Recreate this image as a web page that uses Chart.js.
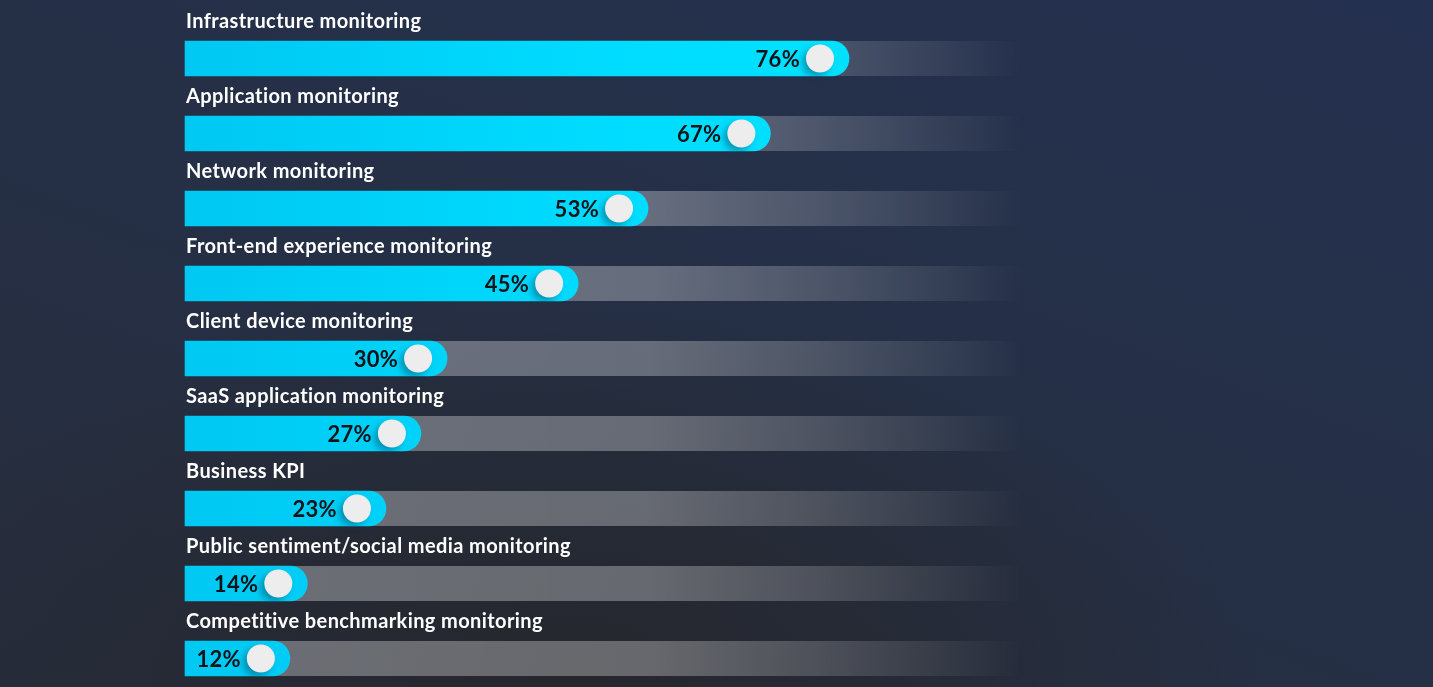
<!DOCTYPE html>
<html>
<head>
<meta charset="utf-8">
<script src="https://cdn.jsdelivr.net/npm/chart.js@4"></script>
<style>
  html, body {
    margin: 0;
    padding: 0;
    width: 1433px;
    height: 687px;
    overflow: hidden;
    background-color: #252d42;
    background-image:
      radial-gradient(ellipse 700px 420px at 560px 700px, rgba(37, 39, 44, 1) 0%, rgba(37, 40, 48, 0.7) 45%, rgba(37, 45, 66, 0) 100%),
      linear-gradient(200deg, #24304f 0%, #253047 45%, #262c3b 100%);
  }
  #wrap { position: relative; width: 1433px; height: 687px; }
</style>
</head>
<body>
<div id="wrap"><canvas id="myChart" width="1433" height="687"></canvas></div>
<script>
const categories = [
  'Infrastructure monitoring',
  'Application monitoring',
  'Network monitoring',
  'Front-end experience monitoring',
  'Client device monitoring',
  'SaaS application monitoring',
  'Business KPI',
  'Public sentiment/social media monitoring',
  'Competitive benchmarking monitoring',
];
const shares = [76, 67, 53, 45, 30, 27, 23, 14, 12];

const BAR_H = 35;
const KNOB_R = 14;

// gray tracks that fade out to the right
const trackPlugin = {
  id: 'tracks',
  beforeDatasetsDraw(chart) {
    const { ctx, chartArea } = chart;
    const meta = chart.getDatasetMeta(0);
    const right = chartArea.right + 10;
    const g = ctx.createLinearGradient(chartArea.left, 0, right, 0);
    g.addColorStop(0, 'rgba(255,255,255,0.33)');
    g.addColorStop(0.55, 'rgba(255,255,255,0.30)');
    g.addColorStop(0.75, 'rgba(255,255,255,0.19)');
    g.addColorStop(0.9, 'rgba(255,255,255,0.08)');
    g.addColorStop(1, 'rgba(255,255,255,0)');
    ctx.save();
    ctx.fillStyle = g;
    meta.data.forEach((bar) => {
      ctx.fillRect(chartArea.left, bar.y - BAR_H / 2, right - chartArea.left, BAR_H);
    });
    ctx.restore();
  },
};

// category names above bars, knob and value label at the bar end
const decorPlugin = {
  id: 'decor',
  afterDatasetsDraw(chart) {
    const { ctx, chartArea } = chart;
    const meta = chart.getDatasetMeta(0);
    ctx.save();
    meta.data.forEach((bar, i) => {
      ctx.fillStyle = '#ffffff';
      ctx.font = '700 20px Lato';
      ctx.letterSpacing = '0.4px';
      ctx.textAlign = 'left';
      ctx.textBaseline = 'middle';
      ctx.fillText(categories[i], chartArea.left + 1, bar.y - 37);

      const kx = bar.x - 29;
      ctx.save();
      ctx.shadowColor = 'rgba(0, 70, 100, 0.45)';
      ctx.shadowBlur = 6;
      ctx.shadowOffsetX = -4;
      ctx.shadowOffsetY = 4;
      ctx.beginPath();
      ctx.arc(kx, bar.y, KNOB_R, 0, Math.PI * 2);
      ctx.fillStyle = '#ededed';
      ctx.fill();
      ctx.restore();

      ctx.fillStyle = '#111318';
      ctx.font = '700 22px Lato';
      ctx.letterSpacing = '0.3px';
      ctx.textAlign = 'right';
      ctx.fillText(`${shares[i]}%`, kx - 20, bar.y + 1);
    });
    ctx.restore();
  },
};

const canvas = document.getElementById('myChart');
const c2d = canvas.getContext('2d');
const cyan = c2d.createLinearGradient(185, 0, 900, 0);
cyan.addColorStop(0, '#00c8f2');
cyan.addColorStop(0.6, '#00dcff');
cyan.addColorStop(1, '#00e2ff');

new Chart(c2d, {
  type: 'bar',
  data: {
    labels: categories,
    datasets: [
      {
        data: shares,
        backgroundColor: cyan,
        borderWidth: 0,
        borderRadius: BAR_H / 2,
        borderSkipped: 'start',
        barThickness: BAR_H,
        clip: false,
      },
    ],
  },
  options: {
    indexAxis: 'y',
    responsive: false,
    animation: false,
    layout: {
      padding: { left: 185, right: 418, top: 58.5, bottom: 28.5 },
    },
    plugins: {
      legend: { display: false },
      tooltip: { enabled: false },
    },
    scales: {
      x: { display: false, min: 0, max: 95 },
      y: { display: false, offset: false, grid: { offset: false } },
    },
  },
  plugins: [trackPlugin, decorPlugin],
});
</script>
</body>
</html>
